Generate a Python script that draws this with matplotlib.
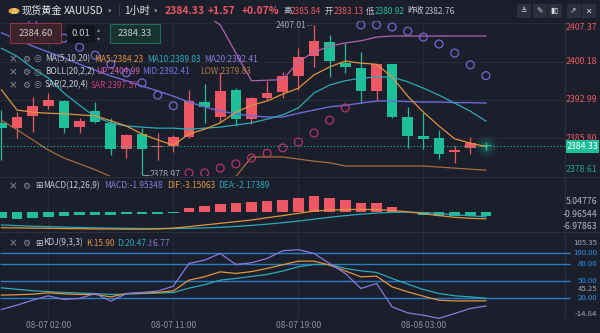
import matplotlib
matplotlib.use('Agg')
import matplotlib.pyplot as plt
from matplotlib.patches import Rectangle, Circle
from matplotlib.transforms import offset_copy
import numpy as np

plt.rcParams['font.family'] = ['Noto Sans CJK SC', 'DejaVu Sans']

# XAUUSD 1h bars, oldest first
opens  = [2388.7, 2387.7, 2390.0, 2391.9, 2392.8, 2387.9, 2390.9, 2388.7, 2383.8, 2386.6,
          2384.1, 2384.4, 2386.0, 2392.6, 2389.8, 2394.9, 2389.4, 2393.4, 2394.5, 2397.5,
          2401.2, 2403.9, 2399.9, 2399.0, 2394.7, 2399.7, 2389.8, 2386.2, 2385.8, 2383.2,
          2384.0, 2384.6]
highs  = [2391.1, 2390.7, 2393.5, 2394.3, 2393.0, 2389.6, 2392.6, 2389.6, 2386.6, 2387.7,
          2386.8, 2386.4, 2394.9, 2396.0, 2398.0, 2395.2, 2393.5, 2396.6, 2398.2, 2402.7,
          2407.01, 2405.2, 2403.7, 2402.0, 2399.7, 2399.7, 2391.7, 2390.5, 2387.4, 2384.4,
          2386.0, 2385.1]
lows   = [2381.7, 2385.8, 2387.0, 2391.3, 2386.8, 2386.8, 2388.7, 2382.7, 2382.1, 2378.97,
          2381.7, 2383.2, 2385.8, 2388.7, 2388.9, 2388.1, 2388.5, 2393.0, 2393.4, 2394.9,
          2399.2, 2397.3, 2398.0, 2392.4, 2393.0, 2389.6, 2384.0, 2383.8, 2381.9, 2381.2,
          2382.9, 2383.6]
closes = [2387.7, 2389.8, 2391.9, 2393.0, 2387.7, 2389.0, 2388.9, 2383.8, 2386.4, 2383.8,
          2384.2, 2386.0, 2392.8, 2391.7, 2394.7, 2389.4, 2393.4, 2394.3, 2397.5, 2401.1,
          2404.1, 2400.3, 2399.2, 2394.7, 2399.7, 2389.8, 2386.2, 2385.7, 2382.9, 2383.6,
          2384.9, 2384.33]

ma5  = [2394.9, 2391.1, 2390.7, 2390.5, 2390.4, 2390.2, 2390.0, 2389.1, 2388.1, 2386.6,
        2385.5, 2384.5, 2386.6, 2387.5, 2388.7, 2390.7, 2392.0, 2392.8, 2394.1, 2395.2,
        2397.7, 2399.2, 2400.3, 2399.9, 2399.7, 2397.3, 2393.7, 2390.7, 2388.1, 2385.7,
        2384.9, 2384.23]
ma10 = [2402.7, 2401.2, 2399.0, 2397.1, 2394.3, 2392.0, 2389.8, 2388.7, 2388.1, 2387.9,
        2387.7, 2387.7, 2387.5, 2387.7, 2387.9, 2388.3, 2388.7, 2389.4, 2390.2, 2391.5,
        2394.3, 2395.8, 2396.6, 2397.1, 2397.3, 2397.3, 2396.4, 2395.2, 2393.9, 2392.4,
        2390.9, 2389.03]
boll_mid = [2405.6, 2404.4, 2403.1, 2402.0, 2400.9, 2399.7, 2398.6, 2397.5, 2396.6, 2395.6,
            2394.7, 2393.7, 2392.6, 2391.7, 2390.9, 2390.4, 2390.0, 2389.8, 2389.8, 2390.5,
            2391.1, 2391.7, 2392.0, 2392.4, 2392.8, 2392.8, 2392.7, 2392.6, 2392.6, 2392.5,
            2392.5, 2392.41]
boll_up  = [2422.0, 2421.4, 2420.7, 2420.4, 2419.7, 2418.4, 2417.3, 2416.4, 2416.0, 2415.1,
            2414.2, 2412.8, 2411.0, 2409.0, 2407.1, 2401.8, 2396.6, 2396.7, 2396.8, 2400.2,
            2402.0, 2403.1, 2403.7, 2404.1, 2404.8, 2405.0, 2405.0, 2405.0, 2405.0, 2405.0,
            2405.0, 2404.99]
boll_low = [2389.2, 2387.4, 2385.5, 2383.6, 2382.1, 2381.0, 2379.9, 2378.6, 2377.2, 2376.1,
            2375.2, 2374.6, 2374.2, 2374.8, 2376.5, 2378.6, 2382.3, 2382.3, 2382.3, 2381.9,
            2381.5, 2381.2, 2380.6, 2380.6, 2380.6, 2380.6, 2380.6, 2380.6, 2380.4, 2380.2,
            2380.0, 2379.83]
sar = [2411.0, 2409.3, 2407.5, 2406.5, 2404.6, 2402.9, 2401.4, 2399.7, 2398.1, 2396.2,
       2393.9, 2391.9, 2379.3, 2379.3, 2380.2, 2381.0, 2382.1, 2383.0, 2384.0, 2385.1,
       2386.8, 2389.2, 2391.5, 2407.1, 2407.1, 2406.7, 2405.9, 2404.8, 2403.5, 2401.8,
       2399.6, 2397.57]

macd_hist = [-2.9, -3.1, -2.6, -2.2, -1.9, -1.5, -1.3, -1.1, -0.9, -0.7,
             -0.6, -0.3, 2.1, 3.2, 4.2, 4.5, 4.8, 5.3, 5.8, 6.9,
             7.7, 6.9, 6.1, 4.5, 4.5, 2.4, 0.3, -1.2, -1.8, -2.0,
             -2.0, -1.95348]
dif = [-7.4, -7.5, -7.6, -7.7, -7.8, -7.9, -8.0, -8.0, -8.1, -8.1,
       -8.0, -7.6, -6.9, -6.1, -5.3, -4.5, -3.7, -2.6, -1.6, -0.5,
       0.6, 1.1, 1.3, 1.4, 1.3, 0.9, 0.2, -0.7, -1.6, -2.4,
       -2.9, -3.15063]
dea = [-6.1, -6.4, -6.7, -6.9, -7.1, -7.3, -7.5, -7.6, -7.7, -7.8,
       -7.8, -7.8, -7.7, -7.5, -7.2, -6.8, -6.3, -5.7, -5.0, -4.2,
       -3.3, -2.4, -1.6, -0.9, -0.4, 0.0, 0.1, -0.1, -0.6, -1.2,
       -1.7, -2.17389]

k_line = [25.8, 26.5, 27.5, 29.9, 28.0, 27.0, 27.0, 22.8, 28.6, 29.5,
          30.5, 33.3, 52.0, 58.0, 66.6, 63.7, 67.0, 72.5, 79.0, 85.3,
          85.3, 78.3, 68.3, 57.8, 59.0, 40.3, 31.5, 23.9, 16.9, 15.7,
          15.7, 15.90]
d_line = [38.6, 36.0, 33.5, 32.0, 30.5, 29.5, 28.5, 27.0, 27.5, 28.5,
          29.5, 30.4, 38.0, 44.0, 52.0, 55.0, 58.5, 62.0, 68.0, 75.4,
          79.5, 79.5, 72.5, 68.3, 65.5, 55.0, 45.0, 35.6, 28.6, 24.6,
          22.8, 20.47]
j_line = [0.7, 8.3, 17.0, 24.6, 18.2, 20.0, 28.6, 15.2, 28.6, 30.5,
          32.8, 41.5, 81.3, 87.0, 98.8, 79.5, 82.5, 90.0, 103.5, 105.35,
          98.8, 81.0, 63.8, 37.4, 46.2, 5.2, -5.3, -9.4, -14.84, -6.4,
          2.4, 6.77]

time_labels = ['08-07 02:00', '08-07 11:00', '08-07 19:00', '08-08 03:00']
time_idx = [3, 11, 19, 27]
price_ticks = [2407.37, 2400.18, 2392.99, 2385.80, 2378.61]
macd_ticks = [5.04776, -0.96544, -6.97863]
kdj_levels = [100, 80, 50, 20]
kdj_range = [105.35, 45.25, -14.84]
last_price = 2384.33

BG = '#1b1f2b'
RED = '#ee5864'
GREEN = '#1dbf98'
GRID = '#262b38'
SEP = '#2b303e'
ORANGE = '#e0943c'
TEAL = '#2aa9bb'
PURPLE = '#8a78dc'
MIDC = '#6a6ad8'
PINK = '#b262ae'
BROWN = '#a86a3e'
LEVEL = '#2a7cc6'
TXT = '#c9ccd6'
DIM = '#8a8f9c'
SYM = ['DejaVu Sans', 'DejaVu Sans Mono', 'Noto Sans CJK SC', 'Noto Sans']

W, H = 600, 333
STEP, X0 = 15.63, 1.4


def ix(px):
    return (px - X0) / STEP


XL = (ix(0), ix(W))
XSEP = ix(565)

fig = plt.figure(figsize=(6, 3.33), dpi=100)
fig.patch.set_facecolor(BG)


def panel(top, h, ylim):
    ax = fig.add_axes([0, 1 - (top + h) / H, 1, h / H])
    ax.set_xlim(*XL)
    ax.set_ylim(*ylim)
    ax.axis('off')
    for i in time_idx:
        ax.axvline(i, color=GRID, lw=0.8, zorder=0)
    ax.axvline(XSEP, color=SEP, lw=0.8, zorder=0)
    return ax


def t(x, y, s, **kw):
    kw.setdefault('va', 'center')
    kw.setdefault('ha', 'left')
    kw.setdefault('fontsize', 6.0)
    kw.setdefault('color', TXT)
    return fig.text(x / W, 1 - y / H, s, **kw)


def box(x, y, w, h, fc, ec='none', lw=0.8):
    fig.add_artist(Rectangle((x / W, 1 - (y + h) / H), w / W, h / H,
                             transform=fig.transFigure, fc=fc, ec=ec, lw=lw, zorder=3))


x = np.arange(len(closes))
o, hi, lo, c = map(np.array, (opens, highs, lows, closes))

# ---- main price panel
ax = panel(21, 155, (2378.72, 2407.82))
for v in price_ticks[:-1]:
    ax.hlines(v, XL[0], XSEP, color=GRID, lw=0.8, zorder=0)

col = np.where(c >= o, RED, GREEN)
ax.vlines(x, lo, hi, colors=col, lw=0.9, zorder=2)
body = np.maximum(np.abs(c - o), 0.22)
ax.bar(x, body, 0.68, bottom=np.minimum(o, c), color=col, zorder=2)
for s, a in [(260, 0.06), (140, 0.1), (60, 0.16)]:
    ax.scatter(x[-1], c[-1], s=s, color=GREEN, alpha=a, lw=0, zorder=2)

ax.plot(x, boll_up, color=PINK, lw=0.9, zorder=3)
ax.plot(x, boll_low, color=BROWN, lw=0.9, zorder=3)
ax.plot(x, boll_mid, color=MIDC, lw=1.0, zorder=3)
ax.plot(x, ma10, color=TEAL, lw=0.9, zorder=3)
ax.plot(x, ma5, color=ORANGE, lw=0.9, zorder=3)

sar = np.array(sar)
above = sar > c
ax.scatter(x[above], sar[above], s=32, facecolors='none', edgecolors='#7565d2', lw=0.9, zorder=4)
ax.scatter(x[~above], sar[~above], s=32, facecolors='none', edgecolors='#b5336c', lw=0.9, zorder=4)

ax.hlines(last_price, XL[0], XSEP, color=GREEN, lw=0.8, linestyles=(0, (1, 2)), zorder=3)

# highest / lowest markers
ih, il = int(np.argmax(hi)), int(np.argmin(lo))
ax.plot([ih - 0.45, ih - 0.05], [hi[ih], hi[ih]], color=DIM, lw=0.8, ls=(0, (1, 1.5)))
ax.text(ih - 0.5, hi[ih], f'{hi[ih]:.2f}', color='#a3a7b2', fontsize=6.2, ha='right', va='center')
ax.plot([il + 0.05, il + 0.45], [lo[il], lo[il]], color=DIM, lw=0.8)
ax.text(il + 0.5, lo[il], f'{lo[il]:.2f}', color='#a3a7b2', fontsize=6.2, ha='left', va='center',
        clip_on=True)

ylo, yhi = ax.get_ylim()
for v in price_ticks:
    yl = min(max(v, ylo + 1.3), yhi - 1.3)
    ax.text(ix(597), yl, f'{v:.2f}', color=RED if v > last_price else '#1fa887',
            fontsize=6.3, ha='right', va='center')
# current price tag
py = 138.3 + (2385.80 - last_price) * 5.327
box(566, py - 6.5, 33, 13, GREEN)
t(582.5, py, f'{last_price:.2f}', ha='center', color='white', fontsize=6.3, zorder=4)

# ---- MACD panel
am = panel(177, 54, (-8.99, 16.97))
am.bar(x, macd_hist, 0.68, color=np.where(np.array(macd_hist) > 0, RED, GREEN), zorder=2)
am.plot(x, dea, color=TEAL, lw=0.9, zorder=3)
am.plot(x, dif, color=ORANGE, lw=0.9, zorder=3)
for v in macd_ticks:
    am.text(ix(597), v, f'{v:.5f}', color='#b4b8c3', fontsize=6.3, ha='right', va='center')

# ---- KDJ panel
ak = panel(232, 86.5, (-15.1, 136.3))
for v in kdj_levels:
    ak.hlines(v, XL[0], ix(570), color=LEVEL, lw=1.0, zorder=1)
ak.plot(x, d_line, color=TEAL, lw=0.9, zorder=3)
ak.plot(x, k_line, color=ORANGE, lw=0.9, zorder=3)
ak.plot(x, j_line, color=PURPLE, lw=0.9, zorder=3)
# range labels (max / mid / min) squeezed between the level labels
for v, va, dy in zip(kdj_range, ['bottom', 'center', 'bottom'], [2.0, -3.9, 0]):
    tr = offset_copy(ak.transData, fig=fig, y=dy, units='points')
    ak.text(ix(597), v, f'{v:.2f}', color='#a4a8b3', fontsize=5.6, ha='right', va=va,
            transform=tr)
for v in kdj_levels:
    ak.text(ix(597), v, f'{v:.2f}', color='#2f8ee4', fontsize=5.6, ha='right', va='center')

# panel borders
for yb in (176.5, 231.5):
    fig.add_artist(plt.Line2D([0, 1], [1 - yb / H] * 2, color=SEP, lw=0.8))

for i, lab in zip(time_idx, time_labels):
    t(X0 + STEP * i, 326, lab, ha='center', color=DIM, fontsize=6.2)

# ---- header
fig.add_artist(Circle((14 / W, 1 - 11 / H), 5.5 / W, transform=fig.transFigure, fc='#e7a83a',
                      ec='none', zorder=3))
t(14, 11, '⁂', ha='center', color='white', fontsize=5, zorder=4)
t(22, 11, '现货黄金', fontsize=7.3, color='#e8eaf0')
t(64, 11, 'XAUUSD', fontsize=7.3, color='#e8eaf0')
t(108, 11.5, '▾', fontsize=5, color=DIM, family=SYM)
t(118, 11, '|', fontsize=7, color='#4a4f5c')
t(124, 11, '1小时', fontsize=7.3, color='#e8eaf0')
t(154, 11.5, '▾', fontsize=5, color=DIM, family=SYM)
t(165, 11, '2384.33', fontsize=7.4, color=RED, weight='bold')
t(208, 11, '+1.57', fontsize=7.4, color=RED, weight='bold')
t(242, 11, '+0.07%', fontsize=7.4, color=RED, weight='bold')
for xs, s, cl in [(283, '高', TXT), (291, '2385.84', RED), (325, '开', TXT), (334, '2383.13', RED),
                  (366, '低', TXT), (375, '2380.92', GREEN), (407, '昨收', TXT),
                  (425, '2382.76', '#b8bcc6')]:
    t(xs, 11, s, fontsize=6.0, color=cl)
for xc, g in zip([523.5, 539.5, 555, 573.5, 588.5], ['≚', '✎', '▮▯', '↗', '✕']):
    box(xc - 7, 4, 14, 14, '#2b303e')
    t(xc, 11, g, ha='center', fontsize=5.5, color='#d6d9e0', zorder=4, family=SYM)

box(10, 23, 51, 20, '#3b2329', '#8c3541')
t(35.5, 33, '2384.60', ha='center', fontsize=6.8, zorder=4)
box(67, 25, 28, 18, '#12151d')
t(81, 34, '0.01', ha='center', fontsize=6.8, zorder=4)
t(99, 29.5, '▴', ha='center', fontsize=4.5, color=DIM, family=SYM)
t(99, 39, '▾', ha='center', fontsize=4.5, color=DIM, family=SYM)
box(110, 24, 50, 19, '#173330', '#1f6c5d')
t(135, 33.5, '2384.33', ha='center', fontsize=6.8, zorder=4)

# indicator legends
rows = [
    (59, 'eye', [(45, 'MA(5,10,20)', TXT), (94, 'MA5:2384.23', ORANGE),
                 (147, 'MA10:2389.03', TEAL), (204, 'MA20:2392.41', PURPLE)]),
    (72, 'eye', [(45, 'BOLL(20,2,2)', TXT), (96, 'UP:2404.99', '#d05fa8'),
                 (142, 'MID:2392.41', '#7276e6'), (200, 'LOW:2379.83', '#b27a4a')]),
    (85, 'eye', [(45, 'SAR(2,20,4)', TXT), (91, 'SAR:2397.57', '#c83c78')]),
    (186, 'box', [(43, 'MACD(12,26,9)', TXT), (104, 'MACD:-1.95348', PURPLE),
                  (167, 'DIF:-3.15063', ORANGE), (218, 'DEA:-2.17389', TEAL)]),
    (243, 'box', [(43, 'KDJ(9,3,3)', TXT), (86, 'K:15.90', ORANGE),
                  (117, 'D:20.47', TEAL), (147, 'J:6.77', PURPLE)]),
]
for y, kind, items in rows:
    t(13, y, '×', ha='center', fontsize=7.5, color=DIM, family=SYM)
    t(26, y, '⚙', ha='center', fontsize=6.5, color=DIM, family=SYM)
    if kind == 'eye':
        t(37, y, '◎', ha='center', fontsize=6.5, color=DIM, family=SYM)
    else:
        t(38.5, y, '⊞', ha='center', fontsize=6.5, color=TXT, family=SYM)
    for xs, s, cl in items:
        t(xs, y, s, color=cl)

fig.savefig('out.png', dpi=100, facecolor=BG)
